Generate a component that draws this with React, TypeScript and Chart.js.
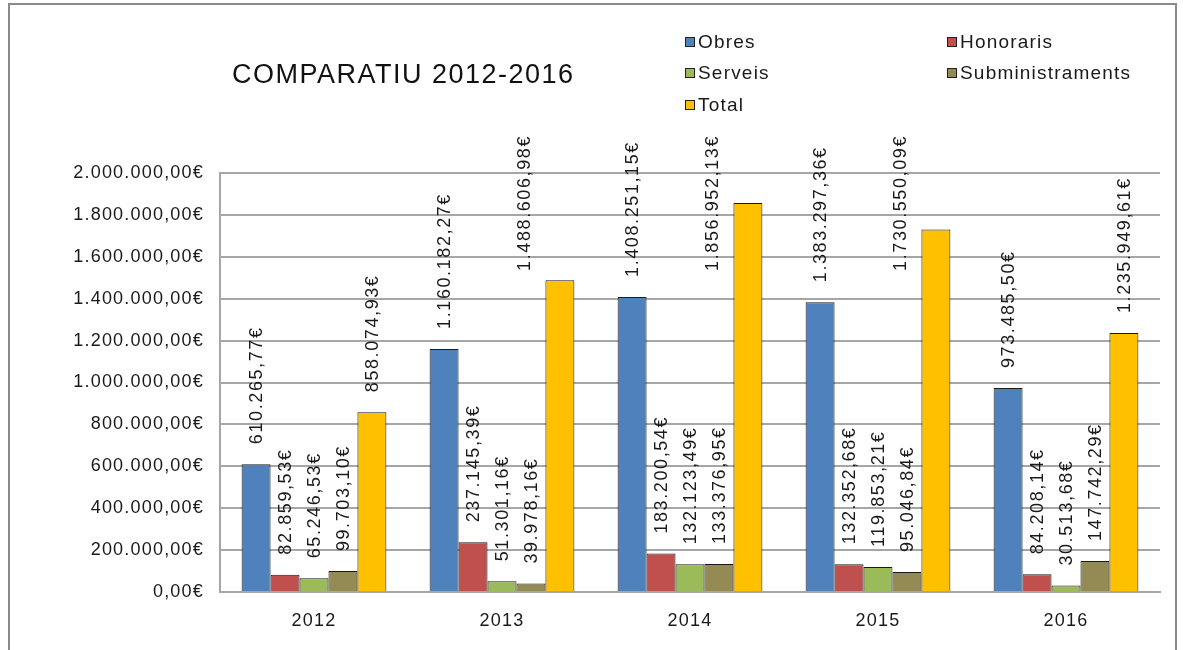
import React, { useEffect, useRef } from "react";
import { Chart, registerables } from "chart.js";

Chart.register(...registerables);

const categories = ["2012", "2013", "2014", "2015", "2016"];
const seriesNames = ["Obres", "Honoraris", "Serveis", "Subministraments", "Total"];
const obres = [610265.77, 1160182.27, 1408251.15, 1383297.36, 973485.5];
const honoraris = [82859.53, 237145.39, 183200.54, 132352.68, 84208.14];
const serveis = [65246.53, 51301.16, 132123.49, 119853.21, 30513.68];
const subministraments = [99703.1, 39978.16, 133376.95, 95046.84, 147742.29];
const total = [858074.93, 1488606.98, 1856952.13, 1730550.09, 1235949.61];
const colors = ["#4F81BD", "#C0504D", "#9BBB59", "#948A54", "#FFC000"];
const yMin = 0;
const yMax = 2000000;
const yStep = 200000;
const title = "COMPARATIU 2012-2016";

const FONT = "'Liberation Sans', Arial, sans-serif";

function fmt(v: number): string {
  const [i, d] = Math.abs(v).toFixed(2).split(".");
  const withDots = i.replace(/\B(?=(\d{3})+(?!\d))/g, ".");
  return withDots + "," + d + "€";
}

const decorPlugin = {
  id: "decor",
  beforeDraw(chart: any) {
    const ctx = chart.ctx;
    ctx.save();
    ctx.fillStyle = "#ffffff";
    ctx.fillRect(0, 0, chart.width, chart.height);
    ctx.strokeStyle = "#8a8a8a";
    ctx.lineWidth = 2;
    ctx.strokeRect(9, 4, 1167, 660);
    ctx.restore();
    ctx.letterSpacing = "1.2px";
  },
  afterDraw(chart: any) {
    const ctx = chart.ctx;
    ctx.save();
    // title
    ctx.letterSpacing = "1.5px";
    ctx.fillStyle = "#111";
    ctx.font = `27px ${FONT}`;
    ctx.textAlign = "left";
    ctx.textBaseline = "alphabetic";
    ctx.fillText(title, 232, 83);
    // legend
    ctx.font = `19px ${FONT}`;
    ctx.letterSpacing = "1.2px";
    const cols = [685, 947];
    const rows = [42, 73, 105];
    seriesNames.forEach((name, i) => {
      const x = cols[i % 2];
      const y = rows[Math.floor(i / 2)];
      ctx.fillStyle = colors[i];
      ctx.fillRect(x, y - 5, 10, 10);
      ctx.strokeStyle = "#222";
      ctx.lineWidth = 1;
      ctx.strokeRect(x + 0.5, y - 4.5, 9, 9);
      ctx.fillStyle = "#1a1a1a";
      ctx.textBaseline = "middle";
      ctx.fillText(name, x + 13, y + 1);
    });
    // data labels
    ctx.font = `18px ${FONT}`;
    ctx.letterSpacing = "1.6px";
    ctx.fillStyle = "#1a1a1a";
    const topLimit = 135;
    chart.data.datasets.forEach((ds: any, di: number) => {
      const meta = chart.getDatasetMeta(di);
      meta.data.forEach((bar: any, i: number) => {
        const text = fmt(ds.data[i]);
        const w = ctx.measureText(text).width;
        let startY = bar.y - 20;
        let x = bar.x + 1;
        if (startY - w < topLimit) {
          startY = topLimit + w;
          x = bar.x - 35;
        }
        ctx.save();
        ctx.translate(x, startY);
        ctx.rotate(-Math.PI / 2);
        ctx.textAlign = "left";
        ctx.textBaseline = "middle";
        ctx.fillText(text, 0, 0);
        ctx.restore();
      });
    });
    ctx.restore();
  },
};

export default function App() {
  const ref = useRef<HTMLCanvasElement | null>(null);
  useEffect(() => {
    if (!ref.current) return;
    const data = [obres, honoraris, serveis, subministraments, total];
    const chart = new Chart(ref.current, {
      type: "bar",
      data: {
        labels: categories,
        datasets: seriesNames.map((n, i) => ({
          label: n,
          data: data[i],
          backgroundColor: colors[i],
          borderColor: "#1a1a1a",
          borderWidth: 1,
          categoryPercentage: 0.77,
          barPercentage: 1,
        })),
      },
      options: {
        animation: false,
        responsive: true,
        maintainAspectRatio: false,
        layout: { padding: { left: 0, top: 173, right: 23, bottom: 18 } },
        plugins: {
          legend: { display: false },
          title: { display: false },
          tooltip: { enabled: false },
        },
        scales: {
          x: {
            grid: { display: false, drawTicks: false },
            border: { display: true, color: "#a6a6a6", width: 2 },
            ticks: {
              color: "#1a1a1a",
              font: { family: FONT, size: 18 },
              padding: 18,
            },
            afterFit: (s: any) => {
              s.height = 40;
            },
          },
          y: {
            min: yMin,
            max: yMax,
            grid: { color: "#a6a6a6", lineWidth: 2, drawTicks: false },
            border: { display: true, color: "#a6a6a6", width: 2 },
            ticks: {
              stepSize: yStep,
              color: "#1a1a1a",
              font: { family: FONT, size: 18 },
              padding: 16,
              callback: (v: any) => fmt(Number(v)),
            },
            afterFit: (s: any) => {
              s.width = 220;
            },
          },
        },
      },
      plugins: [decorPlugin],
    });
    return () => chart.destroy();
  }, []);
  return (
    <div style={{ position: "absolute", left: 0, top: 0, width: 1183, height: 650 }}>
      <canvas ref={ref} />
    </div>
  );
}
